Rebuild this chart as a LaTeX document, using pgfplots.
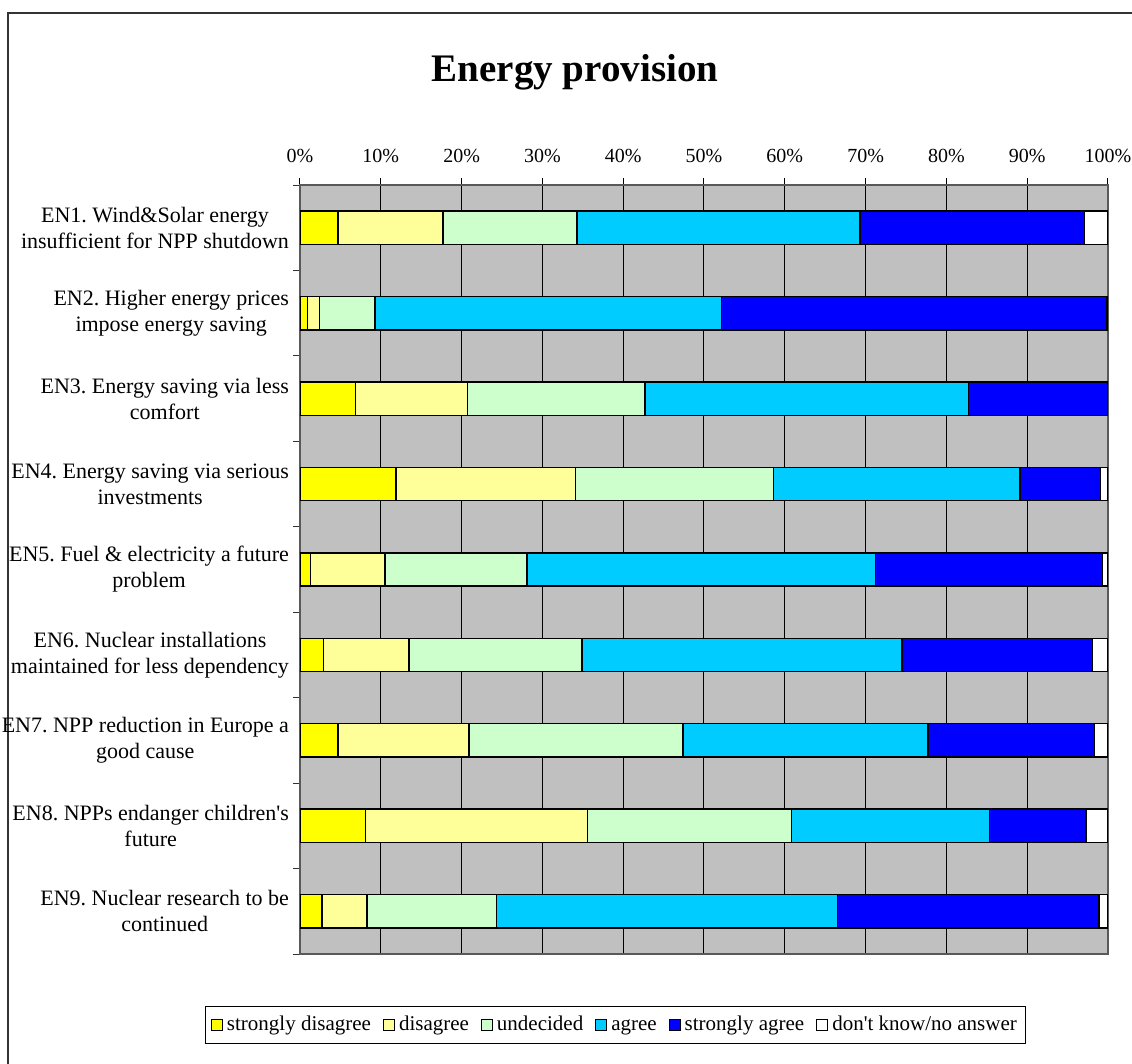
\documentclass[border=0pt]{standalone}
\usepackage{fontspec}
\setmainfont{Liberation Serif}
\usepackage{pgfplots}
\usepackage{pgfplotstable}
\pgfplotsset{compat=1.18}
\frenchspacing

\definecolor{sdis}{HTML}{FFFF00}
\definecolor{dis}{HTML}{FFFF99}
\definecolor{und}{HTML}{CCFFCC}
\definecolor{agr}{HTML}{00CCFF}
\definecolor{sagr}{HTML}{0000FF}
\definecolor{plotbg}{HTML}{C0C0C0}

% shares in percent, one row per statement
\pgfplotstableread{
cat sd    d     u     a     sa    dk
0   4.7   13.0  16.6  35.0  27.8  2.9
1   0.95  1.45  6.9   42.9  47.6  0.2
2   6.9   13.8  22.0  40.0  17.3  0.0
3   11.9  22.2  24.5  30.5  10.0  0.9
4   1.3   9.2   17.6  43.1  28.1  0.7
5   2.9   10.6  21.4  39.6  23.6  1.9
6   4.7   16.2  26.5  30.3  20.6  1.7
7   8.1   27.5  25.2  24.5  12.0  2.7
8   2.7   5.6   16.0  42.2  32.4  1.1
}\endata

\begin{document}
\frenchspacing
\begin{tikzpicture}
\useasboundingbox (0,0) rectangle (566pt,-532pt);
\draw[line width=0.8pt, black!80] (4pt,-540pt) -- (4pt,-6.5pt) -- (570pt,-6.5pt);
\node[font=\fontsize{19.5}{22}\selectfont\bfseries] at (287.5pt,-36pt) {Energy provision};
\begin{axis}[
  at={(150pt,-477pt)}, anchor=south west,
  scale only axis, width=404pt, height=384.5pt,
  xbar stacked, bar width=0.39,
  xmin=0, xmax=100, ymin=-0.5, ymax=8.5, y dir=reverse,
  axis background/.style={fill=plotbg},
  axis line style={draw=black!65, line width=0.9pt},
  font=\fontsize{10}{13}\selectfont,
  xtick={0,10,...,100},
  xticklabels={0\%,10\%,20\%,30\%,40\%,50\%,60\%,70\%,80\%,90\%,100\%},
  xticklabel pos=right, xtick pos=right,
  xticklabel style={yshift=4pt},
  tick align=outside, major tick length=3.5pt, minor tick length=3.5pt,
  xmajorgrids, major grid style={draw=black, line width=0.5pt},
  ytick={0,...,8}, ytick pos=left,
  minor ytick={-0.5,0.5,...,8.5},
  major y tick style={draw=none},
  minor y tick style={draw=black!80, line width=0.5pt},
  major x tick style={draw=black, line width=0.5pt},
  yticklabel style={align=center, xshift=1.5pt, font=\fontsize{11}{13}\selectfont\frenchspacing},
  yticklabels={
    {EN1. Wind\&Solar energy\\insufficient for NPP shutdown},
    {EN2. Higher energy prices\\impose energy saving},
    {EN3. Energy saving via less\\comfort},
    {EN4. Energy saving via serious\\investments},
    {EN5. Fuel \& electricity a future\\problem},
    {EN6. Nuclear installations\\maintained for less dependency},
    {EN7. NPP reduction in Europe a\\good cause},
    {EN8. NPPs endanger children\textquotesingle s\\future},
    {EN9. Nuclear research to be\\continued}},
  every axis plot/.append style={draw=black, line width=0.7pt},
  legend columns=-1,
  legend style={at={(0.391,-0.0923)}, anchor=center, draw=black, line width=0.5pt,
    font=\fontsize{10.5}{12}\selectfont, inner sep=2.5pt,
    nodes={text height=1.6ex, text depth=0.45ex},
    /tikz/every even column/.append style={column sep=4pt}},
  legend image code/.code={\draw[#1, draw=black, line width=0.5pt] (0pt,-2.8pt) rectangle (5.5pt,2.8pt);},
]
\addplot[fill=sdis] table[x=sd, y=cat] {\endata};
\addplot[fill=dis]  table[x=d,  y=cat] {\endata};
\addplot[fill=und]  table[x=u,  y=cat] {\endata};
\addplot[fill=agr]  table[x=a,  y=cat] {\endata};
\addplot[fill=sagr] table[x=sa, y=cat] {\endata};
\addplot[fill=white] table[x=dk, y=cat] {\endata};
\legend{strongly disagree, disagree, undecided, agree, strongly agree, don\textquotesingle t know/no answer}
\end{axis}
\end{tikzpicture}
\end{document}
